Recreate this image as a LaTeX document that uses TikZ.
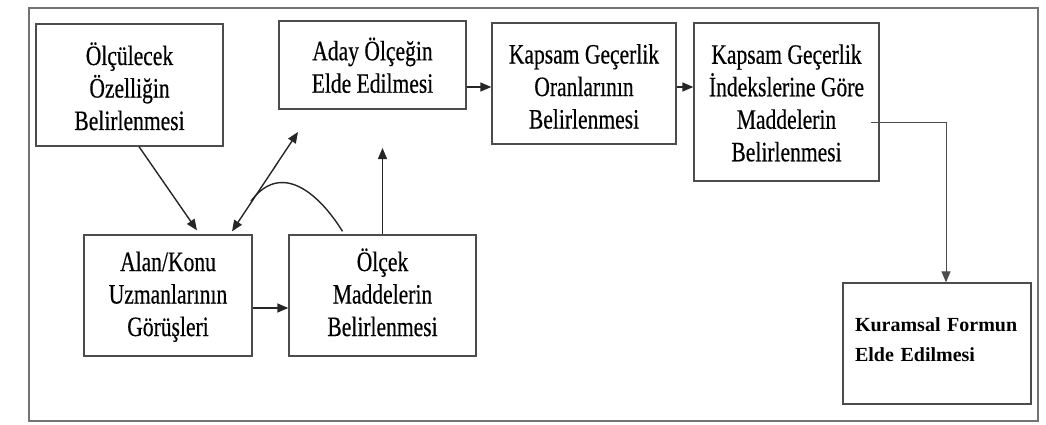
\documentclass[tikz,border=0pt]{standalone}
\usepackage{fontspec}
\setmainfont[FakeStretch=0.77,FakeBold=0.4]{Liberation Serif}
\newfontfamily\gfont{Liberation Serif}
\usetikzlibrary{arrows.meta}
\newcommand\tstr[1]{\rule{0pt}{#1pt}}
\newcommand\bstr[1]{\rule[-#1pt]{0pt}{#1pt}}
\begin{document}
\lineskiplimit=-40pt\relax
\begin{tikzpicture}[x=1pt,y=-1pt,
  >={Triangle[length=11pt,width=9pt]},
  box/.style={draw=black!70, line width=1.3pt, align=center, inner sep=0pt,
    font=\fontsize{28}{32.5}\selectfont},
  arr/.style={draw=black!85, line width=1.4pt, ->},
  thinarr/.style={draw=black!70, line width=1pt, ->},
  curveline/.style={draw=black!85, line width=1.4pt},
]
\useasboundingbox (0,0) rectangle (1046,425);
\draw[black!55, line width=2pt] (29,8) rectangle (1038,421);

\node[box, minimum width=187, minimum height=122] (A) at (129.5,85)
  {\tstr{35}Ölçülecek\\Özelliğin\\Belirlenmesi\bstr{10}};
\node[box, minimum width=187, minimum height=88] (B) at (372.5,65)
  {\tstr{33}Aday Ölçeğin\\Elde Edilmesi\bstr{10}};
\node[box, minimum width=184, minimum height=121] (C) at (584,83.5)
  {\tstr{35}Kapsam Geçerlik\\Oranlarının\\Belirlenmesi\bstr{10}};
\node[box, minimum width=185, minimum height=158] (D) at (786.5,102)
  {\tstr{31}Kapsam Geçerlik\\İndekslerine Göre\\Maddelerin\\Belirlenmesi\bstr{10}};
\node[box, minimum width=168, minimum height=121] (E) at (168,295.5)
  {\tstr{26}Alan/Konu\\Uzmanlarının\\Görüşleri\bstr{10}};
\node[box, minimum width=187, minimum height=121] (F) at (382.5,295.5)
  {\tstr{26}Ölçek\\Maddelerin\\Belirlenmesi\bstr{10}};
\node[box, minimum width=188, minimum height=121, align=left, text width=164,
  font=\gfont\bfseries\fontsize{20}{30}\selectfont] (G) at (937,343.5)
  {Kuramsal Formun\\Elde Edilmesi\bstr{8}};

\coordinate (bt) at (298,132);
\coordinate (ft) at (382.5,148);

\draw[arr] ([xshift=9.5]A.south) -- ([xshift=29,yshift=4]E.north);
\draw[arr, <->] ([xshift=64,yshift=3]E.north) -- (bt);
\draw[curveline] ([xshift=-40,yshift=3]F.north) .. controls (320,195) and (282,160) .. (251,201);
\draw[arr] (F.north) -- (ft);
\draw[arr] ([yshift=-12.5]E.east) -- ([yshift=-12.5]F.west);
\draw[arr] ([yshift=-22]B.east) -- ([yshift=-22]B.east -| C.west);
\draw[arr] ([yshift=-3.5]C.east) -- ([yshift=-3.5]C.east -| D.west);
\draw[thinarr] ([shift={(-9,21)}]D.east) -| ([xshift=9]G.north);
\end{tikzpicture}
\end{document}
